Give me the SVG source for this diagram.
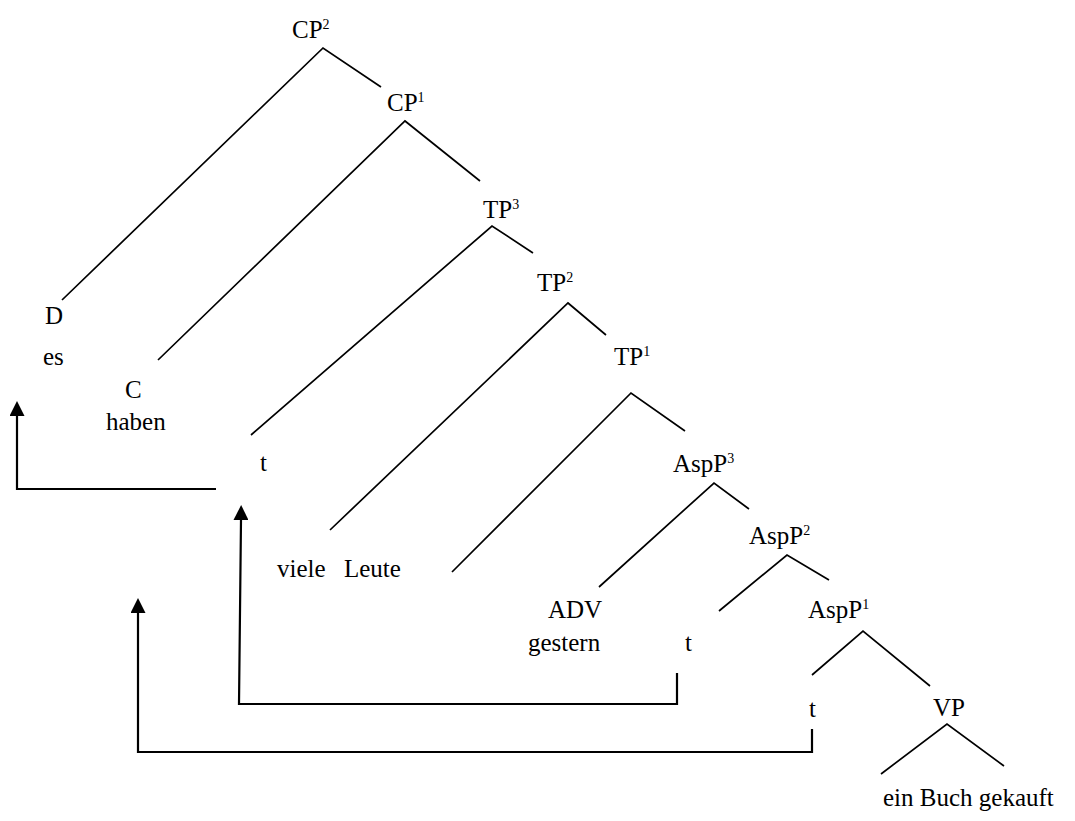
<svg xmlns="http://www.w3.org/2000/svg" width="1075" height="821" viewBox="0 0 1075 821">
<style>
text{font-family:"Liberation Serif","Times New Roman",serif;font-size:25px;fill:#000}
.sup{font-size:14px}
.edge{fill:none;stroke:#000;stroke-width:1.7;stroke-linecap:butt;stroke-linejoin:miter}
.move{fill:none;stroke:#000;stroke-width:2.2}
</style>
<defs>
<marker id="ah" viewBox="0 0 15 15" markerWidth="15" markerHeight="15" refX="0" refY="7.5" orient="auto" markerUnits="userSpaceOnUse">
<path d="M0,0 L15,7.5 L0,15 z" fill="#000"/>
</marker>
</defs>
<rect width="1075" height="821" fill="#fff"/>
<g id="connectors">
<path class="edge" d="M62,300 L323,48 L381,87"/>
<path class="edge" d="M158,360 L405,121 L480,181"/>
<path class="edge" d="M251,435 L492,226 L533,253"/>
<path class="edge" d="M330,530 L568,303 L606,335"/>
<path class="edge" d="M452,572 L631,393 L685,431"/>
<path class="edge" d="M599,587 L714,483 L749,509"/>
<path class="edge" d="M719,611 L787,555 L829,580"/>
<path class="edge" d="M812,675 L863,631 L930,686"/>
<path class="edge" d="M881,774 L947,724 L1004,766"/>
<path class="move" d="M216,489 H17 V416" marker-end="url(#ah)"/>
<path class="move" d="M677,673 V704 H239 L241,520" marker-end="url(#ah)"/>
<path class="move" d="M812,729 V752 H138 V613" marker-end="url(#ah)"/>
</g>
<g id="CP2"><text x="292" y="38">CP<tspan class="sup" dy="-9">2</tspan></text></g>
<g id="CP1"><text x="387" y="111">CP<tspan class="sup" dy="-9">1</tspan></text></g>
<g id="TP3"><text x="483" y="218">TP<tspan class="sup" dy="-9">3</tspan></text></g>
<g id="TP2"><text x="537" y="291">TP<tspan class="sup" dy="-9">2</tspan></text></g>
<g id="TP1"><text x="614" y="365">TP<tspan class="sup" dy="-9">1</tspan></text></g>
<g id="AspP3"><text x="673" y="472">AspP<tspan class="sup" dy="-9">3</tspan></text></g>
<g id="AspP2"><text x="749" y="544">AspP<tspan class="sup" dy="-9">2</tspan></text></g>
<g id="AspP1"><text x="808" y="618">AspP<tspan class="sup" dy="-9">1</tspan></text></g>
<g id="D"><text x="45" y="324">D</text><text x="43" y="365">es</text></g>
<g id="C"><text x="125" y="398">C</text><text x="106" y="430">haben</text></g>
<g id="t-TP"><text x="260" y="471">t</text></g>
<g id="subject"><text y="577"><tspan x="277">viele</tspan><tspan x="344">Leute</tspan></text></g>
<g id="ADV"><text x="548" y="618">ADV</text><text x="528" y="651">gestern</text></g>
<g id="t-AspP2"><text x="685" y="651">t</text></g>
<g id="t-AspP1"><text x="809" y="717">t</text></g>
<g id="VP"><text x="933" y="716">VP</text></g>
<g id="VP-content"><text x="883" y="806">ein Buch gekauft</text></g>
</svg>
